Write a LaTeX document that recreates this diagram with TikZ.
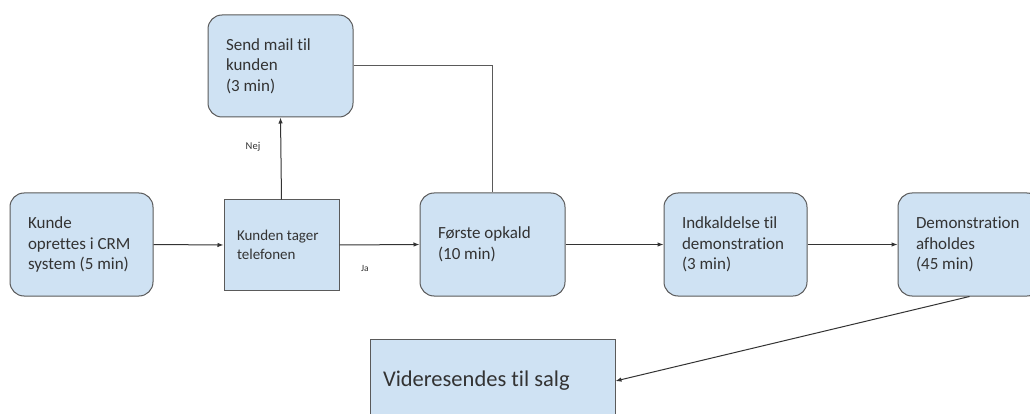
\documentclass[tikz,border=0pt]{standalone}
\usepackage{fontspec}
\setmainfont{Carlito}[Ligatures={NoCommon}]
\usetikzlibrary{arrows.meta}
\definecolor{boxfill}{HTML}{CFE2F3}
\definecolor{boxline}{HTML}{5A5A5A}
\definecolor{ink}{HTML}{333333}
\tikzset{
  flowbox/.style={draw=boxline, line width=1pt, fill=boxfill, text=ink,
    align=left, anchor=center, inner xsep=0pt, inner ysep=0pt},
  roundbox/.style={flowbox, rounded corners=14pt, minimum width=143pt,
    minimum height=103pt, font=\fontsize{17}{20.5}\selectfont},
  plainbox/.style={flowbox},
  flow/.style={draw=ink, line width=1pt, -{Latex[length=6pt,width=4.5pt]}},
  link/.style={draw=boxline, line width=1pt},
  edgelabel/.style={text=ink, font=\fontsize{10.5}{12}\selectfont}
}
\begin{document}
\begin{tikzpicture}[x=1pt,y=-1pt]
  \clip (0,0) rectangle (1030,414);
  \fill[white] (0,0) rectangle (1030,414);

  % process steps
  \node[roundbox] (kunde) at (81.5,244.5)
    {\parbox{107pt}{Kunde\\oprettes i CRM\\system (5 min)}};
  \node[plainbox, minimum width=115pt, minimum height=90pt,
        font=\fontsize{15}{18.5}\selectfont] (tager) at (281.5,245)
    {\parbox{89pt}{Kunden tager\\telefonen}};
  \node[roundbox, minimum width=145pt, minimum height=102pt] (mail) at (280.5,66)
    {\parbox{109pt}{Send mail til\\kunden\\(3 min)}};
  \node[roundbox, minimum width=145pt] (forste) at (492.5,244.5)
    {\parbox{109pt}{Første opkald\\(10 min)}};
  \node[roundbox] (indk) at (735.5,244.5)
    {\parbox{107pt}{Indkaldelse til\\demonstration\\(3 min)}};
  \node[roundbox] (demo) at (969.5,244.5)
    {\parbox{107pt}{Demonstration\\afholdes\\(45 min)}};
  \node[plainbox, minimum width=245pt, minimum height=84pt,
        font=\fontsize{22.5}{26}\selectfont] (salg) at (492.5,381)
    {\parbox{219pt}{Videresendes til salg}};

  % connectors
  \draw[flow] (kunde.east) -- (tager.west);
  \draw[flow] (tager.east) -- (forste.west);
  \draw[flow] (tager.north) -- (mail.south);
  \draw[link] (mail.east) -| (forste.north);
  \draw[flow] (forste.east) -- (indk.west);
  \draw[flow] (indk.east) -- (demo.west);
  \draw[flow] (demo.south) -- (salg.east);

  % branch labels
  \node[edgelabel] (nej) at (253,147) {Nej};
  \node[edgelabel, font=\fontsize{9.5}{11}\selectfont] (ja) at (365,268) {Ja};
\end{tikzpicture}
\end{document}
